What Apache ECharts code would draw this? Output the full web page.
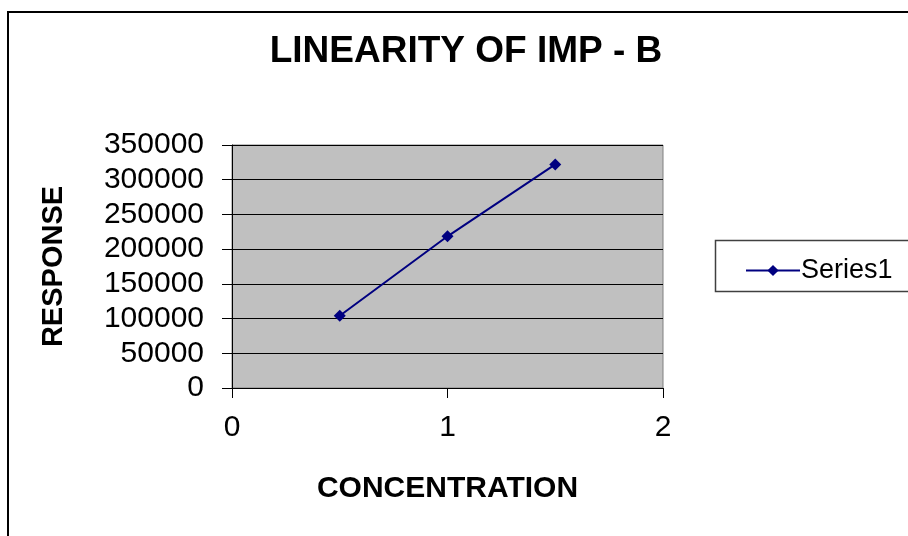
<!DOCTYPE html>
<html>
<head>
<meta charset="utf-8">
<script src="https://cdn.jsdelivr.net/npm/echarts@6/dist/echarts.min.js"></script>
<style>html,body{margin:0;padding:0;background:#fff}#c{width:908px;height:536px}</style>
</head>
<body>
<div id="c"></div>
<script>
const titleText = "LINEARITY OF IMP - B";
const xName = "CONCENTRATION";
const yName = "RESPONSE";
const seriesName = "Series1";
const concentration = [0.5, 1, 1.5];
const response = [104000, 218500, 322000];

const chart = echarts.init(document.getElementById('c'), null, {renderer: 'canvas'});
const F = '"Liberation Sans", Arial, sans-serif';
chart.setOption({
  animation: false,
  backgroundColor: '#fff',
  title: {
    text: titleText, left: 461, textAlign: 'center', top: 28,
    textStyle: {fontFamily: F, fontSize: 37, fontWeight: 'bold', color: '#000'}
  },
  graphic: [
    {type: 'rect', shape: {x: 8, y: 12, width: 1000, height: 600}, style: {fill: 'none', stroke: '#000', lineWidth: 2}, z: -1},
    {type: 'rect', shape: {x: 715.5, y: 240.5, width: 300, height: 51}, style: {fill: '#fff', stroke: '#404040', lineWidth: 1.5}, z: 0}
  ],
  legend: {
    left: 740, top: 252, itemWidth: 54, itemHeight: 14, itemGap: 4,
    textStyle: {fontFamily: F, fontSize: 27, color: '#000', padding: [0, 0, 0, -4]},
    data: [seriesName],
    z: 10
  },
  grid: {left: 232, top: 145, right: 245, bottom: 148, show: true, backgroundColor: '#c0c0c0', borderColor: '#808080', borderWidth: 1},
  xAxis: {
    type: 'value', min: 0, max: 2, interval: 1,
    name: xName, nameLocation: 'middle', nameGap: 86,
    nameTextStyle: {fontFamily: F, fontSize: 30, fontWeight: 'bold', color: '#000'},
    axisLine: {show: true, lineStyle: {color: '#000', width: 1}},
    axisTick: {show: true, inside: false, length: 10, lineStyle: {color: '#000'}},
    axisLabel: {fontFamily: F, fontSize: 30, color: '#000', margin: 25},
    splitLine: {show: false}
  },
  yAxis: {
    type: 'value', min: 0, max: 350000, interval: 50000,
    name: yName, nameLocation: 'middle', nameGap: 164, nameRotate: 90,
    nameTextStyle: {fontFamily: F, fontSize: 29, fontWeight: 'bold', color: '#000'},
    axisLine: {show: true, lineStyle: {color: '#000', width: 1}},
    axisTick: {show: true, inside: false, length: 10, lineStyle: {color: '#000'}},
    axisLabel: {fontFamily: F, fontSize: 30, color: '#000', margin: 28, formatter: v => String(v)},
    splitLine: {show: true, lineStyle: {color: '#000', width: 1}}
  },
  series: [{
    name: seriesName, type: 'line',
    data: concentration.map((x, i) => [x, response[i]]),
    symbol: 'diamond', symbolSize: 12,
    lineStyle: {color: '#000080', width: 2},
    itemStyle: {color: '#000080'}
  }]
});
</script>
</body>
</html>
